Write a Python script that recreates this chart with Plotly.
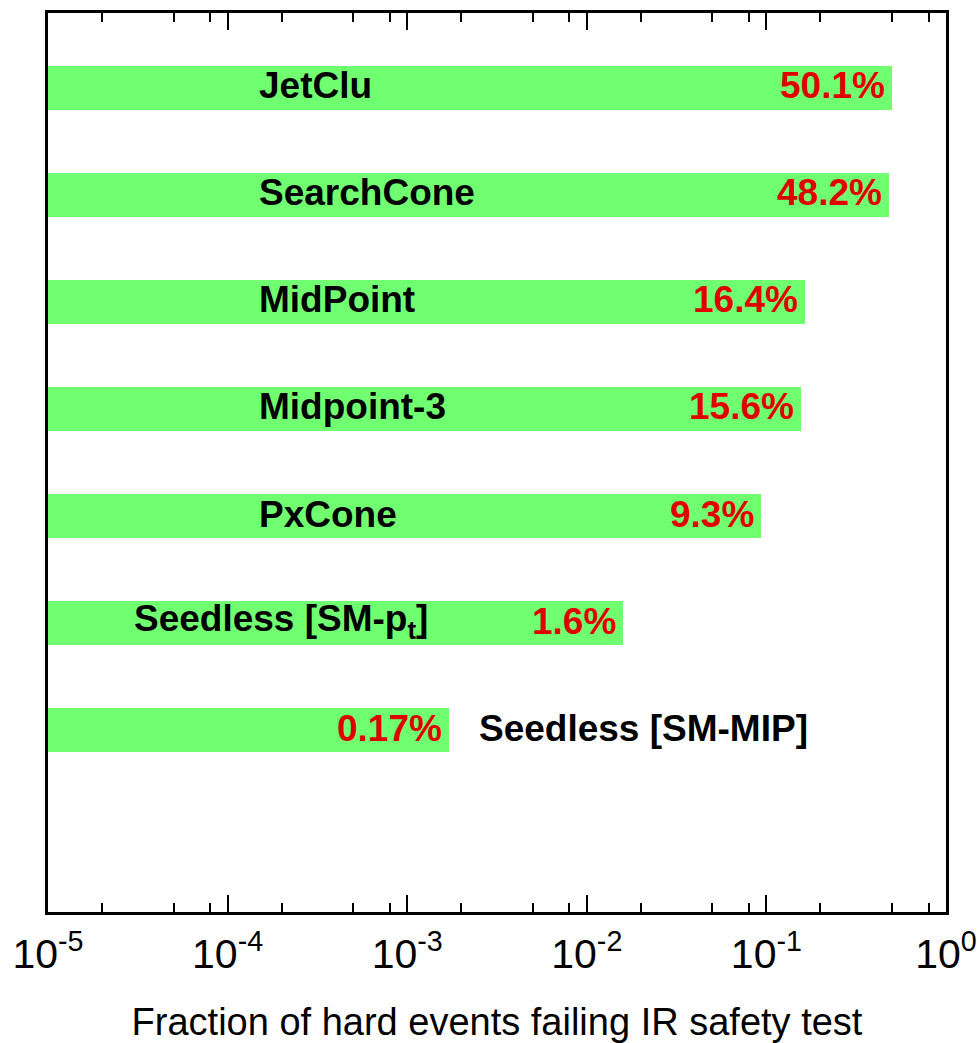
import math
import plotly.graph_objects as go

# Jet algorithms and the fraction of hard events failing the IR safety test
algorithms = ["JetClu", "SearchCone", "MidPoint", "Midpoint-3", "PxCone",
              "Seedless [SM-p<sub>t</sub>]", "Seedless [SM-MIP]"]
fractions = [0.501, 0.482, 0.164, 0.156, 0.093, 0.016, 0.0017]
percent_labels = ["50.1%", "48.2%", "16.4%", "15.6%", "9.3%", "1.6%", "0.17%"]

# Axis decades
decades = [-5, -4, -3, -2, -1, 0]
tick_labels = ["10<sup>-5</sup>", "10<sup>-4</sup>", "10<sup>-3</sup>",
               "10<sup>-2</sup>", "10<sup>-1</sup>", "10<sup>0</sup>"]

X_MIN = 1e-5
GREEN = "#70FF70"
RED = "#E00000"
FONT = "Liberation Sans, Arial, sans-serif"

n = len(algorithms)
rows = list(range(n, 0, -1))  # top row first

fig = go.Figure()
fig.add_trace(go.Bar(
    y=rows,
    x=[f - X_MIN for f in fractions],
    base=[X_MIN] * n,
    orientation="h",
    width=0.41,
    marker=dict(color=GREEN, line=dict(width=0)),
    hoverinfo="skip",
    showlegend=False,
))

annotations = []
label_font = dict(family=FONT, size=37, color="black")
pct_font = dict(family=FONT, size=37, color=RED)
for i, (name, frac, pct, row) in enumerate(zip(algorithms, fractions, percent_labels, rows)):
    # value label, right-aligned at the end of the bar
    annotations.append(dict(
        x=math.log10(frac), y=row, xref="x", yref="y",
        text="<b>%s</b>" % pct, showarrow=False,
        xanchor="right", yanchor="middle", xshift=-5, yshift=2,
        font=pct_font,
    ))
    # algorithm name
    if i < 5:
        name_x, shift = -3.835, 0
    elif i == 5:
        name_x, shift = -4.53, 0
    else:
        name_x, shift = math.log10(frac), 28
    annotations.append(dict(
        x=name_x, y=row, xref="x", yref="y",
        text="<b>%s</b>" % name, showarrow=False,
        xanchor="left", yanchor="middle", xshift=shift, yshift=2,
        font=label_font,
    ))

minor_vals = [m * 10 ** d for d in decades[:-1] for m in (2, 5, 8)]

fig.update_layout(
    width=977, height=1043,
    margin=dict(l=48, r=31, t=13, b=131),
    plot_bgcolor="white", paper_bgcolor="white",
    annotations=annotations,
    bargap=0,
)
fig.update_xaxes(
    type="log", range=[-5, 0], automargin=False,
    tickvals=[10 ** d for d in decades], ticktext=tick_labels,
    ticks="inside", ticklen=17, tickwidth=2, tickcolor="black",
    ticklabelstandoff=4,
    minor=dict(tickvals=minor_vals, ticks="inside", ticklen=9, tickwidth=2,
               tickcolor="black", showgrid=False),
    showline=True, linewidth=3, linecolor="black", mirror="allticks",
    showgrid=False, zeroline=False,
    tickfont=dict(family=FONT, size=41, color="black"),
    title=dict(text="Fraction of hard events failing IR safety test",
               font=dict(family=FONT, size=38, color="black"), standoff=46),
)
fig.update_yaxes(
    range=[-0.70, 7.70], showticklabels=False, ticks="", automargin=False,
    showline=True, linewidth=3, linecolor="black", mirror=True,
    showgrid=False, zeroline=False,
)

fig.write_html("out.html")
